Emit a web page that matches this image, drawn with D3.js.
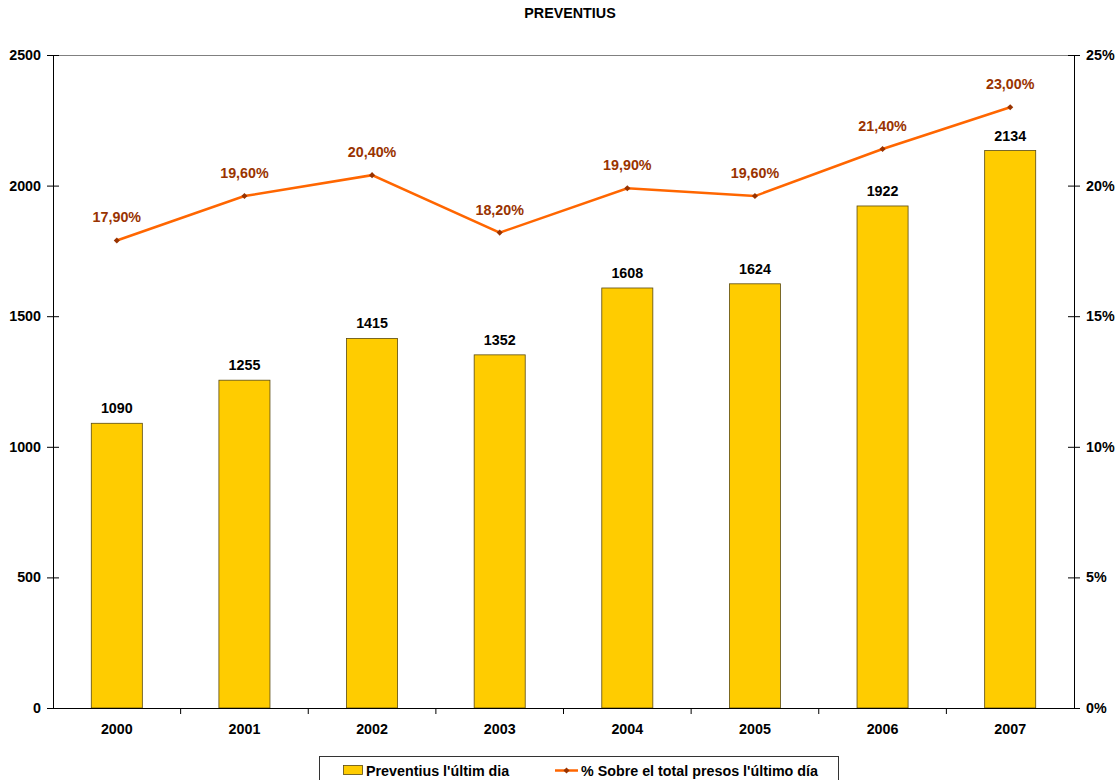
<!DOCTYPE html>
<html><head><meta charset="utf-8">
<script src="https://cdn.jsdelivr.net/npm/d3@7"></script>
<style>
body{margin:0;background:#fff;}
text{font-family:Arial,"Liberation Sans",sans-serif;font-weight:bold;}
</style></head>
<body>
<svg id="c" width="1120" height="780"></svg>
<script>
const title = "PREVENTIUS";
const years = ["2000","2001","2002","2003","2004","2005","2006","2007"];
const preventius = [1090,1255,1415,1352,1608,1624,1922,2134];
const pct = [17.9,19.6,20.4,18.2,19.9,19.6,21.4,23.0];
const leftTicks = [0,500,1000,1500,2000,2500];
const rightTicks = [0,5,10,15,20,25];
const seriesNames = ["Preventius l'últim dia","% Sobre el total presos l'último día"];

const FS = 14.3;
const svg = d3.select("#c");
const m = {l:53, r:1074, t:55, b:708};
const x = d3.scaleBand().domain(years).range([m.l, m.r]);
const y = d3.scaleLinear().domain([0,2500]).range([m.b, m.t]);
const y2 = d3.scaleLinear().domain([0,25]).range([m.b, m.t]);

// title
svg.append("text").attr("x",570).attr("y",18).attr("text-anchor","middle")
  .attr("font-size",FS).text(title);

// top border
svg.append("line").attr("x1",m.l).attr("x2",m.r).attr("y1",m.t+0.5).attr("y2",m.t+0.5)
  .attr("stroke","#808080").attr("stroke-width",1);

// bars
const bw = x.bandwidth()*0.4;
svg.append("g").selectAll("rect").data(years).join("rect")
  .attr("x",(d)=>x(d)+x.bandwidth()/2-bw/2)
  .attr("y",(d,i)=>y(preventius[i]))
  .attr("width",bw)
  .attr("height",(d,i)=>m.b-y(preventius[i]))
  .attr("fill","#FFCC00").attr("stroke","#5a4a10").attr("stroke-width",0.8);

// bar labels
svg.append("g").selectAll("text").data(years).join("text")
  .attr("x",(d)=>x(d)+x.bandwidth()/2)
  .attr("y",(d,i)=>y(preventius[i])-10)
  .attr("text-anchor","middle").attr("font-size",FS).attr("fill","#000")
  .text((d,i)=>preventius[i]);

// axes
const la = d3.axisLeft(y).tickValues(leftTicks).tickFormat(d3.format("d")).tickSize(6).tickPadding(6);
const gl = svg.append("g").attr("transform",`translate(${m.l},0)`).call(la);
gl.selectAll(".tick line").attr("x1",-6).attr("x2",6);
const ra = d3.axisRight(y2).tickValues(rightTicks).tickFormat(d=>d+"%").tickSize(6).tickPadding(6);
const gr = svg.append("g").attr("transform",`translate(${m.r},0)`).call(ra);
gr.selectAll(".tick line").attr("x1",-6).attr("x2",6);
const ba = d3.axisBottom(x).tickSize(0).tickPadding(16);
const gb = svg.append("g").attr("transform",`translate(0,${m.b})`).call(ba);
// category boundary ticks
svg.append("g").selectAll("line").data(years.slice(1)).join("line")
  .attr("x1",d=>x(d)).attr("x2",d=>x(d)).attr("y1",m.b).attr("y2",m.b+6)
  .attr("stroke","#000");
[gl,gr,gb].forEach(g=>{
  g.selectAll("path").attr("stroke","#000").attr("stroke-width",1);
  g.selectAll(".tick line").attr("stroke","#000");
  g.selectAll("text").attr("font-size",FS).attr("fill","#000")
    .attr("font-family","Arial,'Liberation Sans',sans-serif").attr("font-weight","bold");
});
gl.select("path").attr("d",`M0.5,${m.t}V${m.b}`);
gr.select("path").attr("d",`M0.5,${m.t}V${m.b}`);
gb.select("path").attr("d",`M${m.l},0.5H${m.r}`);

// line
const line = d3.line().x((d,i)=>x(years[i])+x.bandwidth()/2).y(d=>y2(d));
svg.append("path").datum(pct).attr("d",line).attr("fill","none")
  .attr("stroke","#FF6600").attr("stroke-width",2.5);
svg.append("g").selectAll("path").data(pct).join("path")
  .attr("transform",(d,i)=>`translate(${x(years[i])+x.bandwidth()/2},${y2(d)})`)
  .attr("d",d3.symbol(d3.symbolDiamond2,24)).attr("fill","#993300");
svg.append("g").selectAll("text").data(pct).join("text")
  .attr("x",(d,i)=>x(years[i])+x.bandwidth()/2)
  .attr("y",d=>y2(d)-18)
  .attr("text-anchor","middle").attr("font-size",FS).attr("fill","#993300")
  .text(d=>d.toFixed(2).replace(".",",")+"%");

// legend
const lg = svg.append("g");
lg.append("rect").attr("x",319.5).attr("y",756.5).attr("width",519).attr("height",30)
  .attr("fill","#fff").attr("stroke","#333");
lg.append("rect").attr("x",343.5).attr("y",765.5).attr("width",19).attr("height",9)
  .attr("fill","#FFCC00").attr("stroke","#5a4a10").attr("stroke-width",0.8);
lg.append("text").attr("x",366).attr("y",775.5).attr("font-size",FS).text(seriesNames[0]);
lg.append("line").attr("x1",555).attr("x2",578).attr("y1",770.5).attr("y2",770.5)
  .attr("stroke","#FF6600").attr("stroke-width",2.5);
lg.append("path").attr("transform","translate(566.5,770.5)")
  .attr("d",d3.symbol(d3.symbolDiamond2,24)).attr("fill","#993300");
lg.append("text").attr("x",581).attr("y",775.5).attr("font-size",FS).text(seriesNames[1]);
</script>
</body></html>
